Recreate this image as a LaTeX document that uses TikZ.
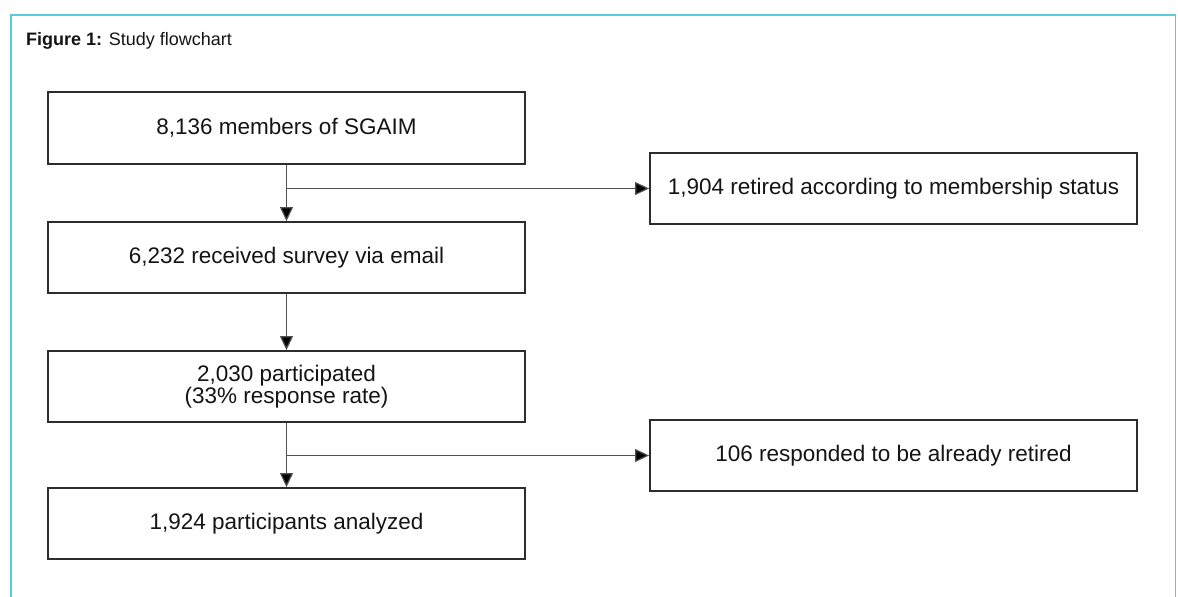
\documentclass[tikz,border=0pt]{standalone}
\usepackage{fontspec}
\setmainfont{Liberation Sans}
\usetikzlibrary{arrows.meta}
\definecolor{framecyan}{RGB}{92,200,218}
\definecolor{boxline}{RGB}{45,45,45}
\definecolor{linkgray}{RGB}{80,80,80}
\definecolor{textdark}{RGB}{20,20,20}
\begin{document}
\begin{tikzpicture}[x=1pt,y=-1pt,
  flowbox/.style={draw=boxline, line width=1.8pt, minimum width=477pt,
    minimum height=71pt, inner sep=0pt, align=center, text=textdark,
    font=\fontsize{22.5}{22}\selectfont},
  sidebox/.style={flowbox, minimum width=487pt},
  link/.style={draw=linkgray, line width=1.2pt,
    -{Triangle[length=14pt,width=13pt,fill=black]}}]
\useasboundingbox (0,0) rectangle (1178,597);
% outer frame, open at the bottom
\draw[framecyan, line width=1.6pt] (10.8,600) -- (10.8,15.2) -- (1175.5,15.2) -- (1175.5,600);
% caption
\node[anchor=base west, inner sep=0pt, text=textdark, font=\fontsize{18}{20}\selectfont]
  (title) at (26,45) {\textbf{Figure 1:} Study flowchart};
% boxes
\node[flowbox, minimum height=72pt] (members) at (286.5,128) {8,136 members of SGAIM};
\node[sidebox, minimum height=71.5pt] (retired) at (893.5,188.5) {1,904 retired according to membership status};
\node[flowbox] (received) at (286.5,257.5) {6,232 received survey via email};
\node[flowbox] (participated) at (286.5,386.5) {2,030 participated\\(33\% response rate)};
\node[sidebox] (already) at (893.5,455.5) {106 responded to be already retired};
\node[flowbox] (analyzed) at (286.5,523.5) {1,924 participants analyzed};
% connectors
\draw[link] (members.south) -- (received.north);
\draw[link] (members.south |- retired.west) -- (retired.west);
\draw[link] (received.south) -- (participated.north);
\draw[link] (participated.south) -- (analyzed.north);
\draw[link] (participated.south |- already.west) -- (already.west);
\end{tikzpicture}
\end{document}
